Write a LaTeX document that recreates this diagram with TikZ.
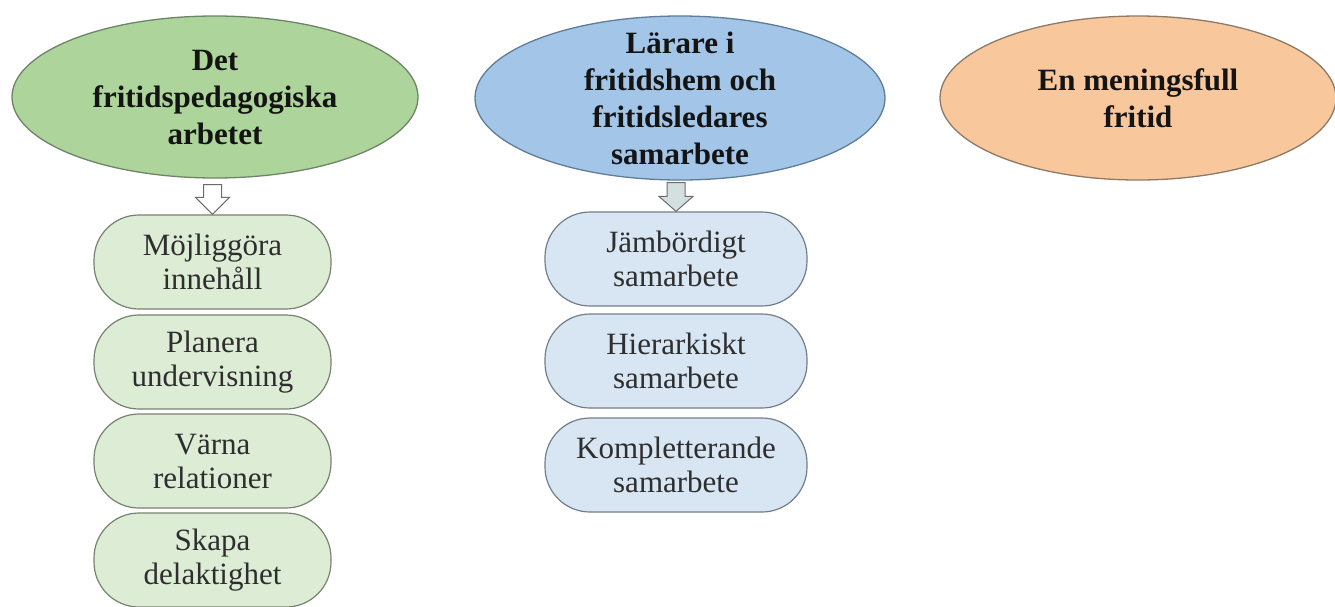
\documentclass[tikz,border=0pt]{standalone}
\usepackage{fontspec}
\setmainfont{Liberation Serif}
\usetikzlibrary{shapes.geometric,calc}
\definecolor{gEll}{HTML}{ADD49A}
\definecolor{gEllLine}{HTML}{6E8468}
\definecolor{gBox}{HTML}{DDEDD5}
\definecolor{gBoxLine}{HTML}{77836F}
\definecolor{bEll}{HTML}{A3C6E8}
\definecolor{bEllLine}{HTML}{5F7C98}
\definecolor{bBox}{HTML}{D8E6F4}
\definecolor{bBoxLine}{HTML}{737E88}
\definecolor{oEll}{HTML}{F8C89C}
\definecolor{oEllLine}{HTML}{8C7A66}
\definecolor{txtDark}{HTML}{141414}
\definecolor{txtBox}{HTML}{2E2E2E}
\definecolor{bArrow}{HTML}{D3E0DF}
\tikzset{
  x=1pt,y=-1pt,
  ell/.style={ellipse, draw, line width=1.3pt, inner sep=0pt},
  elltext/.style={inner sep=0pt, align=center, text=txtDark,
    font=\fontsize{31}{37}\selectfont\bfseries},
  pill/.style={rectangle, rounded corners=45pt, draw, line width=1.2pt,
    minimum height=94pt, inner sep=0pt, align=center, text=txtBox,
    font=\fontsize{31}{34}\selectfont},
  gpill/.style={pill, fill=gBox, draw=gBoxLine, minimum width=237pt},
  bpill/.style={pill, fill=bBox, draw=bBoxLine, minimum width=262pt},
  blockarr/.style={draw=gray!85!black, line width=1pt, line join=miter},
}
% #1 from node, #2 to node, #3 fill, #4 gap below #1, #5 head length
\newcommand\blockarrow[5]{%
  \draw[blockarr, fill=#3]
    ($(#2.north |- #1.south)+(-9,#4)$) -- ($(#2.north |- #1.south)+(9,#4)$)
    -- ($(#2.north)+(9,-#5)$) -- ($(#2.north)+(17,-#5)$) -- (#2.north)
    -- ($(#2.north)+(-17,-#5)$) -- ($(#2.north)+(-9,-#5)$) -- cycle;}
\begin{document}
\begin{tikzpicture}
\useasboundingbox (0,0) rectangle (1335,606);
\begin{scope}
\clip (0,0) rectangle (1335,606);
\node[ell, fill=gEll, draw=gEllLine, minimum width=406pt, minimum height=162pt,
  label={[elltext]center:Det\\fritidspedagogiska\\arbetet}] (g) at (215,97) {};
\node[ell, fill=bEll, draw=bEllLine, minimum width=410pt, minimum height=164pt,
  label={[elltext]center:Lärare i\\fritidshem och\\fritidsledares\\samarbete}] (b) at (680,98) {};
\node[ell, fill=oEll, draw=oEllLine, minimum width=396pt, minimum height=164pt,
  label={[elltext]center:En meningsfull\\fritid}] (o) at (1138,98) {};

\node[gpill] (g1) at (212.5,262) {Möjliggöra\\innehåll};
\node[gpill] (g2) at (212.5,362) {Planera\\undervisning};
\node[gpill] (g3) at (212.5,461) {Värna\\relationer};
\node[gpill] (g4) at (212.5,560) {Skapa\\delaktighet};

\node[bpill] (b1) at (676,259) {Jämbördigt\\samarbete};
\node[bpill] (b2) at (676,361) {Hierarkiskt\\samarbete};
\node[bpill] (b3) at (676,465) {Kompletterande\\samarbete};

\blockarrow{g}{g1}{white}{6}{17}
\blockarrow{b}{b1}{bArrow}{2}{15}
\end{scope}
\end{tikzpicture}
\end{document}
